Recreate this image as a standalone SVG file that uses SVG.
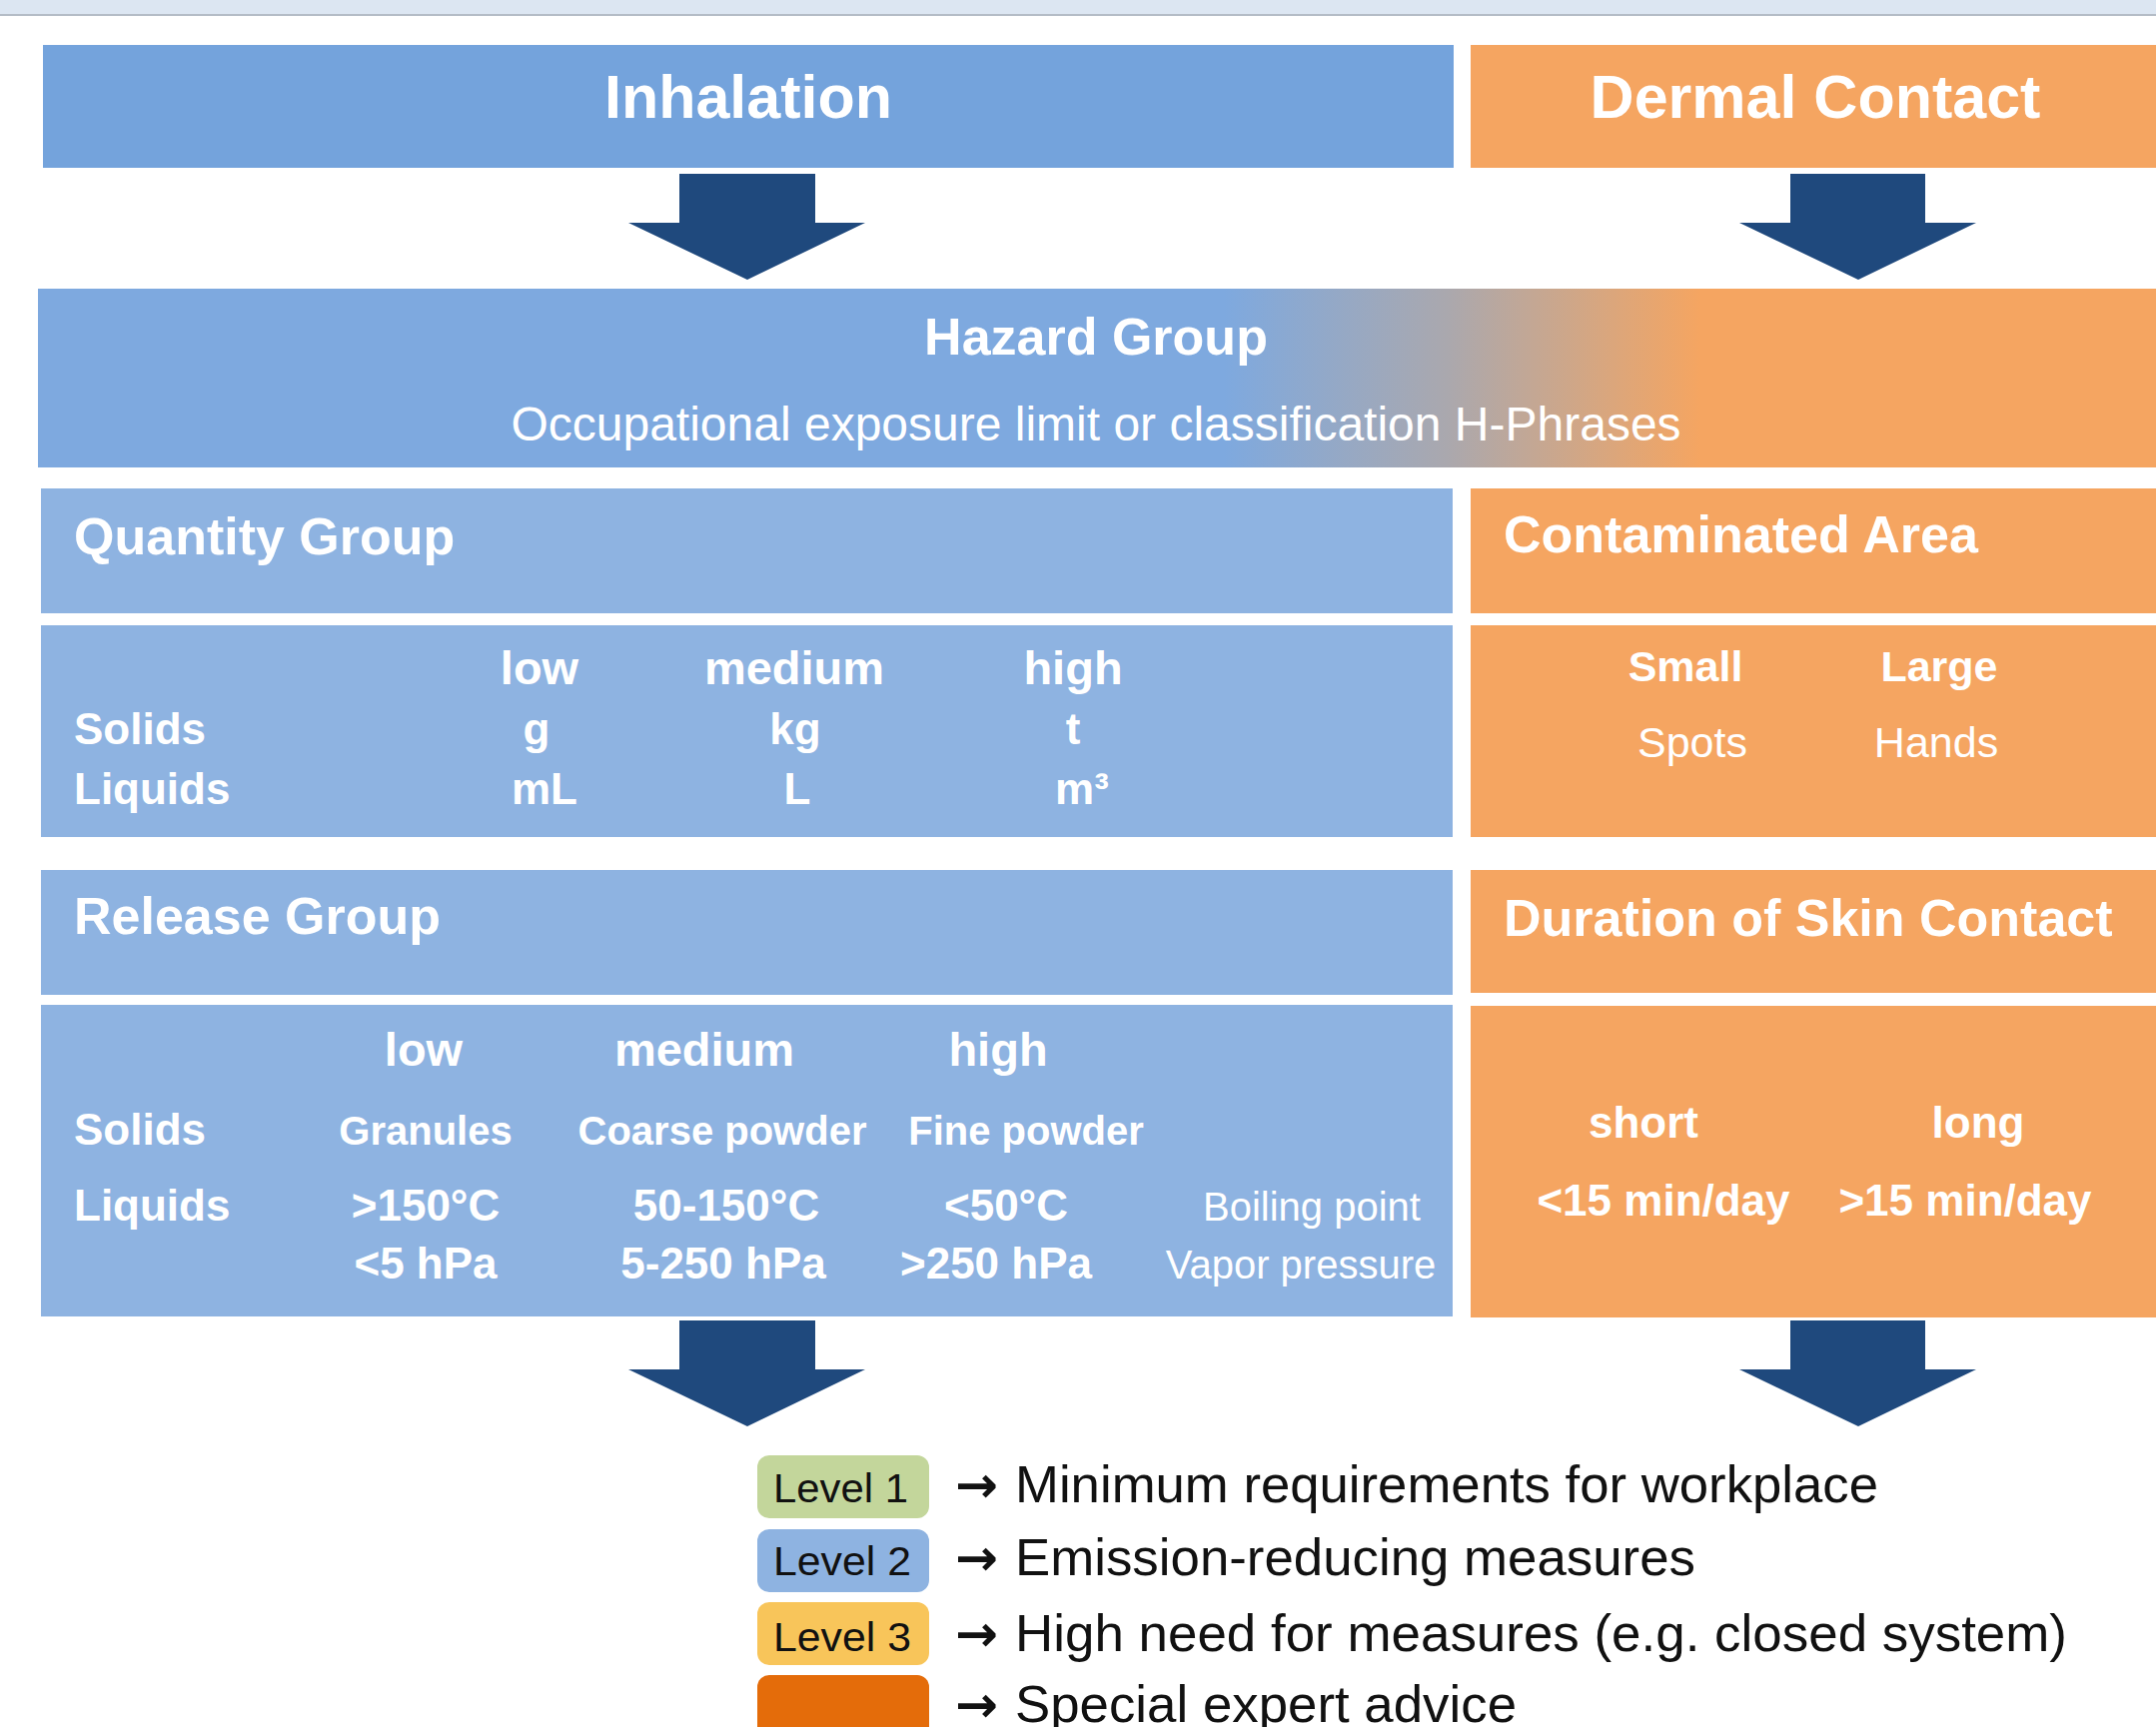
<svg xmlns="http://www.w3.org/2000/svg" width="2158" height="1729" viewBox="0 0 2158 1729">
<style>
  .b{font-family:"Liberation Sans",Arial,sans-serif;font-weight:bold;fill:#ffffff}
  .r{font-family:"Liberation Sans",Arial,sans-serif;font-weight:normal;fill:#ffffff}
  .lg{font-family:"Liberation Sans",Arial,sans-serif;font-weight:normal;fill:#111111}
  .ar{font-family:"DejaVu Sans",sans-serif;font-weight:bold;fill:#111111}
  .blue{fill:#8eb3e1}
  .orange{fill:#f5a561}
  .arr{fill:#1f497d}
  .c{text-anchor:middle}
</style>
<defs>
  <linearGradient id="hz" x1="38" y1="0" x2="2158" y2="0" gradientUnits="userSpaceOnUse">
    <stop offset="0" stop-color="#7ea9df"/>
    <stop offset="0.56" stop-color="#7ea9df"/>
    <stop offset="0.665" stop-color="#aaa8ae"/>
    <stop offset="0.785" stop-color="#f5a561"/>
    <stop offset="1" stop-color="#f5a561"/>
  </linearGradient>
</defs>
<rect x="0" y="0" width="2158" height="1729" fill="#ffffff"/>
<rect x="0" y="0" width="2158" height="14" fill="#dce6f2"/>
<rect x="0" y="14" width="2158" height="2" fill="#b4bcc6"/>

<g id="inhalation">
  <rect x="43" y="45" width="1412" height="123" fill="#74a3dc"/>
  <text class="b c" x="749" y="118" font-size="61">Inhalation</text>
</g>
<g id="dermal">
  <rect x="1472" y="45" width="686" height="123" class="orange"/>
  <text class="b c" x="1817" y="118" font-size="61">Dermal Contact</text>
</g>

<g id="hazard">
  <rect x="38" y="289" width="2120" height="179" fill="url(#hz)"/>
  <text class="b c" x="1097" y="355" font-size="52">Hazard Group</text>
  <text class="r c" x="1097" y="441" font-size="48">Occupational exposure limit or classification H-Phrases</text>
</g>

<g id="quantity">
  <rect x="41" y="489" width="1413" height="125" class="blue"/>
  <text class="b" x="74" y="555" font-size="52">Quantity Group</text>
  <rect x="41" y="626" width="1413" height="212" class="blue"/>
  <text class="b c" x="540" y="685" font-size="47">low</text>
  <text class="b c" x="795" y="685" font-size="47">medium</text>
  <text class="b c" x="1074" y="685" font-size="47">high</text>
  <text class="b" x="74" y="745" font-size="44">Solids</text>
  <text class="b" x="74" y="805" font-size="44">Liquids</text>
  <text class="b c" x="537" y="745" font-size="44">g</text>
  <text class="b c" x="796" y="745" font-size="44">kg</text>
  <text class="b c" x="1074" y="745" font-size="44">t</text>
  <text class="b c" x="545" y="805" font-size="44">mL</text>
  <text class="b c" x="798" y="805" font-size="44">L</text>
  <text class="b c" x="1083" y="805" font-size="44">m³</text>
</g>

<g id="contaminated">
  <rect x="1472" y="489" width="686" height="125" class="orange"/>
  <text class="b" x="1505" y="553" font-size="52">Contaminated Area</text>
  <rect x="1472" y="626" width="686" height="212" class="orange"/>
  <text class="b c" x="1687" y="682" font-size="43">Small</text>
  <text class="b c" x="1941" y="682" font-size="43">Large</text>
  <text class="r c" x="1694" y="758" font-size="43">Spots</text>
  <text class="r c" x="1938" y="758" font-size="43">Hands</text>
</g>

<g id="release">
  <rect x="41" y="871" width="1413" height="125" class="blue"/>
  <text class="b" x="74" y="935" font-size="52">Release Group</text>
  <rect x="41" y="1006" width="1413" height="312" class="blue"/>
  <text class="b c" x="424" y="1067" font-size="47">low</text>
  <text class="b c" x="705" y="1067" font-size="47">medium</text>
  <text class="b c" x="999" y="1067" font-size="47">high</text>
  <text class="b" x="74" y="1146" font-size="44">Solids</text>
  <text class="b c" x="426" y="1146" font-size="40">Granules</text>
  <text class="b c" x="723" y="1146" font-size="40">Coarse powder</text>
  <text class="b c" x="1027" y="1146" font-size="40">Fine powder</text>
  <text class="b" x="74" y="1222" font-size="44">Liquids</text>
  <text class="b c" x="426" y="1222" font-size="44">&gt;150°C</text>
  <text class="b c" x="727" y="1222" font-size="44">50-150°C</text>
  <text class="b c" x="1007" y="1222" font-size="44">&lt;50°C</text>
  <text class="r c" x="1313" y="1222" font-size="40">Boiling point</text>
  <text class="b c" x="426" y="1280" font-size="44">&lt;5 hPa</text>
  <text class="b c" x="724" y="1280" font-size="44">5-250 hPa</text>
  <text class="b c" x="997" y="1280" font-size="44">&gt;250 hPa</text>
  <text class="r c" x="1302" y="1280" font-size="40">Vapor pressure</text>
</g>

<g id="duration">
  <rect x="1472" y="871" width="686" height="123" class="orange"/>
  <text class="b" x="1505" y="937" font-size="52">Duration of Skin Contact</text>
  <rect x="1472" y="1007" width="686" height="312" class="orange"/>
  <text class="b c" x="1645" y="1139" font-size="44">short</text>
  <text class="b c" x="1980" y="1139" font-size="44">long</text>
  <text class="b c" x="1665" y="1217" font-size="44">&lt;15 min/day</text>
  <text class="b c" x="1967" y="1217" font-size="44">&gt;15 min/day</text>
</g>

<g id="connectors">
  <polygon class="arr" points="680,174 816,174 816,223 866,223 748,280 629,223 680,223"/>
  <polygon class="arr" points="1792,174 1927,174 1927,223 1978,223 1860,280 1741,223 1792,223"/>
  <polygon class="arr" points="680,1322 816,1322 816,1371 866,1371 748,1428 629,1371 680,1371"/>
  <polygon class="arr" points="1792,1322 1927,1322 1927,1371 1978,1371 1860,1428 1741,1371 1792,1371"/>
</g>

<g id="legend">
  <g id="level1">
    <rect x="758" y="1457" width="172" height="63" rx="12" fill="#c3d69b"/>
    <text class="lg" x="774" y="1504" font-size="41" textLength="135" lengthAdjust="spacingAndGlyphs">Level 1</text>
    <text class="ar" x="956" y="1504" font-size="50" textLength="43" lengthAdjust="spacingAndGlyphs">→</text>
    <text class="lg" x="1016" y="1504" font-size="52" textLength="864" lengthAdjust="spacingAndGlyphs">Minimum requirements for workplace</text>
  </g>
  <g id="level2">
    <rect x="758" y="1531" width="172" height="63" rx="12" fill="#8eb3e1"/>
    <text class="lg" x="774" y="1577" font-size="41" textLength="138" lengthAdjust="spacingAndGlyphs">Level 2</text>
    <text class="ar" x="956" y="1577" font-size="50" textLength="43" lengthAdjust="spacingAndGlyphs">→</text>
    <text class="lg" x="1016" y="1577" font-size="52" textLength="681" lengthAdjust="spacingAndGlyphs">Emission-reducing measures</text>
  </g>
  <g id="level3">
    <rect x="758" y="1604" width="172" height="63" rx="12" fill="#f8c55a"/>
    <text class="lg" x="774" y="1653" font-size="41" textLength="138" lengthAdjust="spacingAndGlyphs">Level 3</text>
    <text class="ar" x="956" y="1653" font-size="50" textLength="43" lengthAdjust="spacingAndGlyphs">→</text>
    <text class="lg" x="1016" y="1653" font-size="52" textLength="1053" lengthAdjust="spacingAndGlyphs">High need for measures (e.g. closed system)</text>
  </g>
  <g id="level4">
    <rect x="758" y="1677" width="172" height="70" rx="12" fill="#e46c0a"/>
    <text class="ar" x="956" y="1724" font-size="50" textLength="43" lengthAdjust="spacingAndGlyphs">→</text>
    <text class="lg" x="1016" y="1724" font-size="52" textLength="502" lengthAdjust="spacingAndGlyphs">Special expert advice</text>
  </g>
</g>
</svg>
